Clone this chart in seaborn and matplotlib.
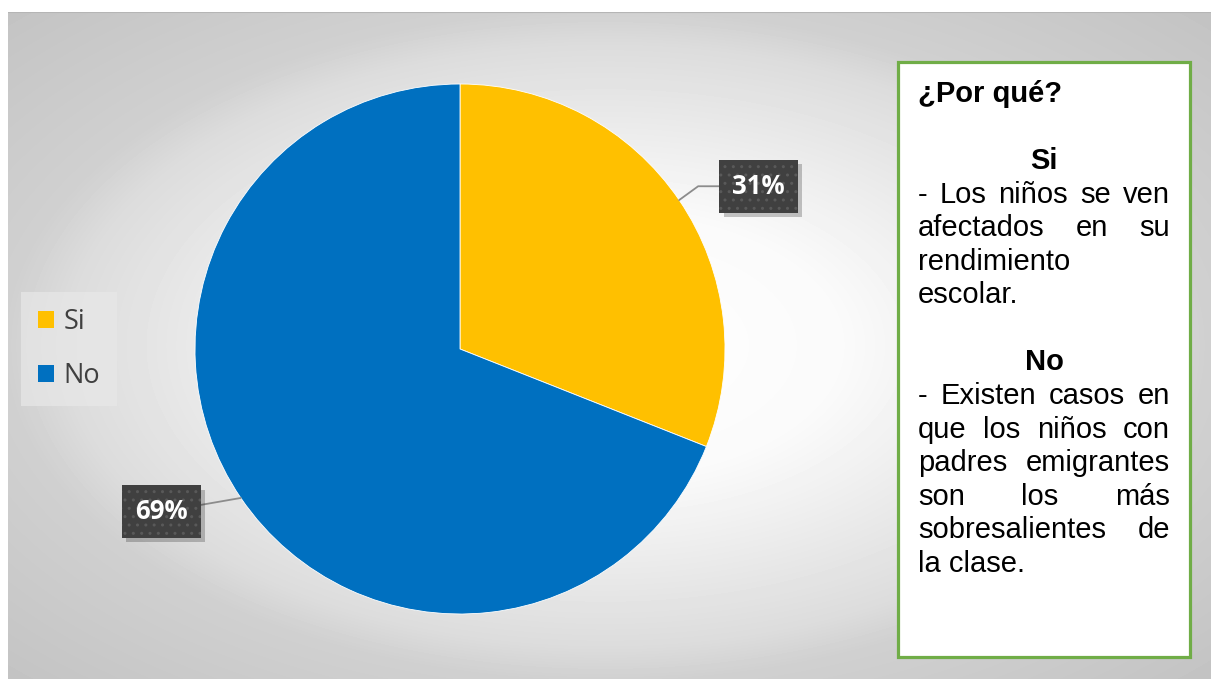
import numpy as np
import matplotlib
matplotlib.use('Agg')
import matplotlib.pyplot as plt
import matplotlib.patheffects as pe
import seaborn as sns
from matplotlib.patches import Rectangle

# data
categories = ['Si', 'No']
values = [31, 69]
colors = ['#FFC000', '#0070C0']
pct_labels = ['31%', '69%']

box_title = '¿Por qué?'
si_head = 'Si'
si_reason = ['- Los niños se ven', 'afectados en su', 'rendimiento', 'escolar.']
no_head = 'No'
no_reason = ['- Existen casos en', 'que los niños con', 'padres emigrantes',
             'son los más', 'sobresalientes de', 'la clase.']

W, H = 1211, 679


class PlainShadow(pe.SimplePatchShadow):
    """Drop shadow without the hatch of the patch it belongs to"""
    def draw_path(self, renderer, gc, tpath, affine, rgbFace):
        gc0 = renderer.new_gc()
        gc0.copy_properties(gc)
        gc0.set_hatch(None)
        super().draw_path(renderer, gc0, tpath, affine, rgbFace)
        gc0.restore()


def main():
    sns.set_theme(style='white')
    plt.rcParams['font.family'] = ['Liberation Sans', 'DejaVu Sans']

    fig = plt.figure(figsize=(W / 100, H / 100), dpi=100)
    fig.patch.set_facecolor('white')

    # radial gradient background of the chart area
    bg = fig.add_axes([8 / W, 0, 1 - 8 / W, 1 - 12 / H])
    yy, xx = np.mgrid[12:H, 8:W]
    d = np.sqrt(((xx - 605) / 600.0) ** 2 + ((yy - 345) / 335.0) ** 2)
    shade = np.interp(d, [0, 0.4, 0.9, 1.0, 1.45], [255, 250, 220, 208, 194]) / 255.0
    bg.imshow(shade, cmap='gray', vmin=0, vmax=1, aspect='auto', interpolation='bilinear')
    bg.axhline(-0.5, color='#b5b5b5', lw=1.5)
    bg.set_axis_off()

    # pie
    cx, cy, r = 460, 349, 265
    ax = fig.add_axes([(cx - r) / W, (H - cy - r) / H, 2 * r / W, 2 * r / H])
    ax.patch.set_alpha(0)
    wedges, _ = ax.pie(values, colors=colors, startangle=90, counterclock=False,
                       wedgeprops=dict(edgecolor='white', linewidth=0.6))
    ax.set_xlim(-1, 1)
    ax.set_ylim(-1, 1)

    for w, txt in zip(wedges, pct_labels):
        mid = np.deg2rad((w.theta1 + w.theta2) / 2)
        lab = mid - np.deg2rad(5.6)
        px, py = np.cos(mid), np.sin(mid)
        tx, ty = 1.283 * np.cos(lab), 1.283 * np.sin(lab)
        conn = 'angle,angleA=180,angleB=36,rad=0' if tx > 0 else 'arc3'
        ann = ax.annotate(txt, xy=(px, py), xytext=(tx, ty), ha='center', va='center',
                          fontsize=18.5, fontweight='bold', family='Open Sans', color='white',
                          bbox=dict(boxstyle='square,pad=0.5', fc='#404040', ec='#595959',
                                    hatch='..', lw=0),
                          arrowprops=dict(arrowstyle='-', color='#8c8c8c', lw=1.3,
                                          shrinkA=0, shrinkB=0, connectionstyle=conn),
                          annotation_clip=False, zorder=4)
        ann.get_bbox_patch().set_path_effects(
            [PlainShadow(offset=(3, -3), shadow_rgbFace='black', alpha=0.22), pe.Normal()])

    # legend
    leg = fig.legend(wedges, categories, loc='center', bbox_to_anchor=(69 / W, 1 - 349 / H),
                     frameon=True, handlelength=0.62, handleheight=0.62,
                     handletextpad=0.35, labelspacing=0.95, borderpad=0.3,
                     prop={'family': 'Open Sans', 'size': 19.5})
    frame = leg.get_frame()
    frame.set_facecolor('#e8e8e8')
    frame.set_edgecolor('none')
    frame.set_alpha(0.7)
    frame.set_boxstyle('square')
    for t in leg.get_texts():
        t.set_color('#404040')
    for h in leg.legend_handles:
        h.set_edgecolor('none')

    # explanation box
    fig.patches.append(Rectangle((898 / W, 1 - 657 / H), (1190 - 898) / W, (657 - 62) / H,
                                 transform=fig.transFigure, fc='white', ec='#70AD47',
                                 lw=2.3, zorder=1))

    renderer = fig.canvas.get_renderer()
    left, right, center = 918, 1170, 1044
    fs = 21

    def line_y(i):
        return 1 - (101.7 + i * 33.6) / H

    def put(text, i, weight='normal', align='left'):
        x = {'left': left, 'center': center}[align]
        fig.text(x / W, line_y(i), text, ha=align, va='baseline', fontsize=fs,
                 fontweight=weight, color='black', zorder=5)

    def justify(text, i):
        words = text.split()
        objs = [fig.text(0, line_y(i), wd, ha='left', va='baseline', fontsize=fs,
                         color='black', zorder=5) for wd in words]
        widths = [o.get_window_extent(renderer).width for o in objs]
        gap = (right - left - sum(widths)) / (len(words) - 1)
        x = left
        for o, wdt in zip(objs, widths):
            o.set_x(x / W)
            x += wdt + gap

    def paragraph(lines, start):
        for k, ln in enumerate(lines):
            last = k == len(lines) - 1
            if last or len(ln.split()) < 2:
                put(ln, start + k)
            else:
                justify(ln, start + k)

    put(box_title, 0, weight='bold')
    put(si_head, 2, weight='bold', align='center')
    paragraph(si_reason, 3)
    put(no_head, 8, weight='bold', align='center')
    paragraph(no_reason, 9)

    fig.savefig('out.png', dpi=100)
    plt.close(fig)


if __name__ == '__main__':
    main()
